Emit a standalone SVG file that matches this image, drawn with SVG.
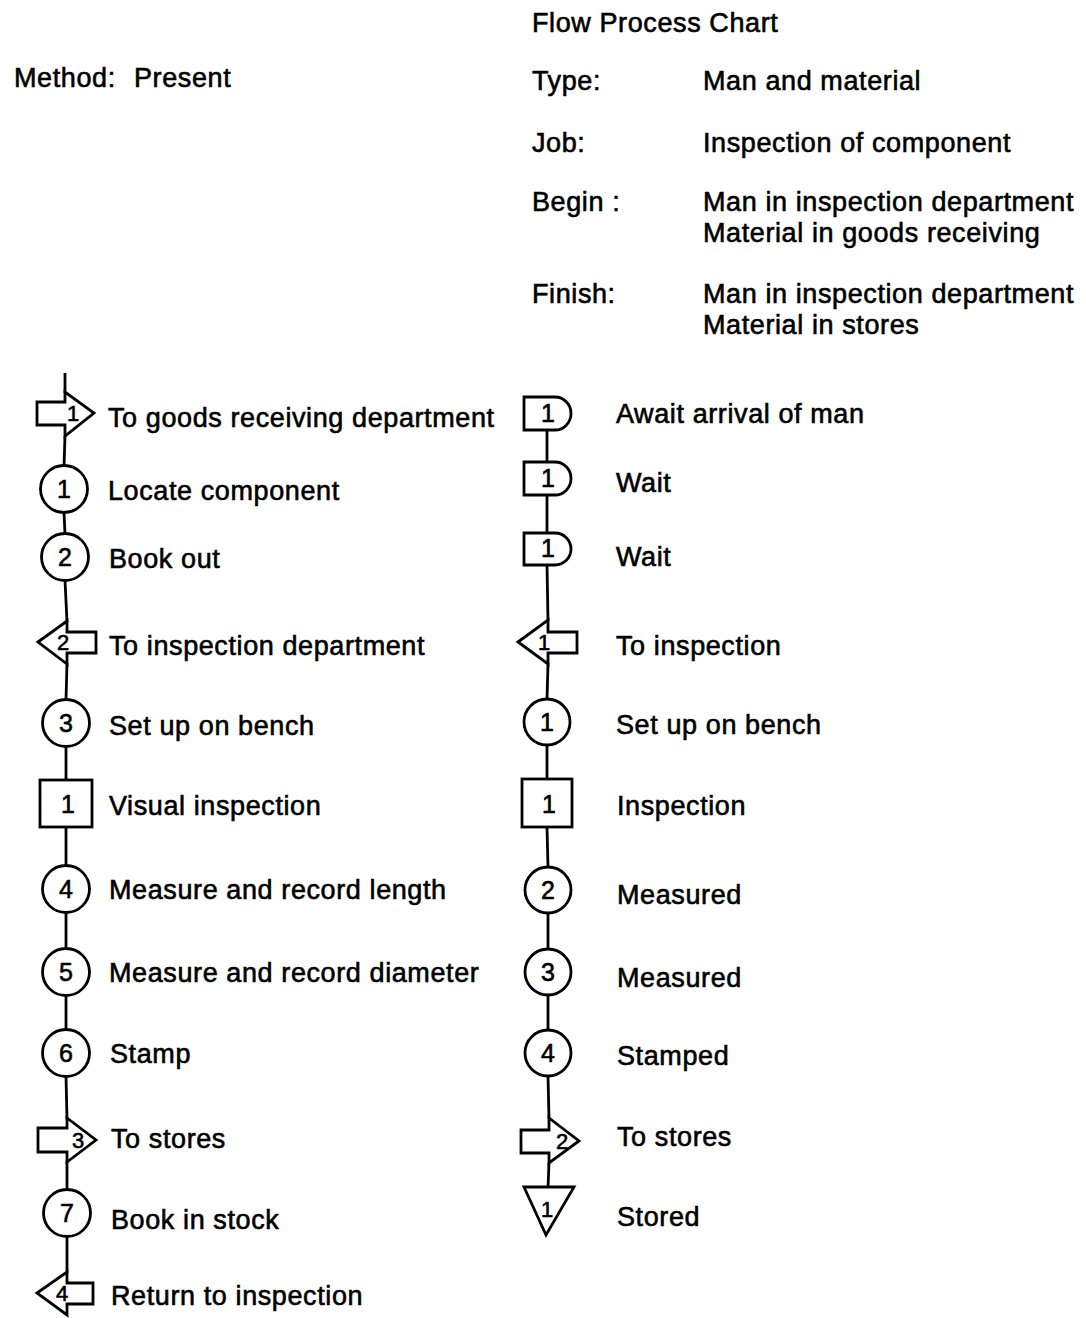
<svg xmlns="http://www.w3.org/2000/svg" width="1086" height="1318" viewBox="0 0 1086 1318">
<style>
text{font-family:"Liberation Sans",Arial,sans-serif;fill:#000;stroke:#000;stroke-width:0.6}
.t{font-size:27px;letter-spacing:0.6px}
.n{font-size:25px;text-anchor:middle}
.s{font-size:22px;text-anchor:middle}
.sh{fill:#fff;stroke:#000;stroke-width:2.8;stroke-linejoin:miter}
.ln{stroke:#000;stroke-width:2.8;fill:none}
</style>
<rect width="1086" height="1318" fill="#fff"/>
<g id="header">
<text class="t" x="532" y="32">Flow Process Chart</text>
<text class="t" x="14" y="87">Method:<tspan x="134">Present</tspan></text>
<text class="t" x="532" y="90">Type:</text>
<text class="t" x="703" y="90">Man and material</text>
<text class="t" x="532" y="152">Job:</text>
<text class="t" x="703" y="152">Inspection of component</text>
<text class="t" x="532" y="211">Begin :</text>
<text class="t" x="703" y="211">Man in inspection department</text>
<text class="t" x="703" y="242">Material in goods receiving</text>
<text class="t" x="532" y="303">Finish:</text>
<text class="t" x="703" y="303">Man in inspection department</text>
<text class="t" x="703" y="334">Material in stores</text>
</g>
<g id="connectors">
<line class="ln" x1="65" y1="373" x2="65" y2="393"/>
<line class="ln" x1="65" y1="436" x2="64" y2="466"/>
<line class="ln" x1="64" y1="512" x2="65" y2="534"/>
<line class="ln" x1="65" y1="580" x2="67" y2="622"/>
<line class="ln" x1="67" y1="663" x2="66" y2="700"/>
<line class="ln" x1="66" y1="746" x2="66" y2="780"/>
<line class="ln" x1="66" y1="827" x2="66" y2="866"/>
<line class="ln" x1="66" y1="912" x2="66" y2="949"/>
<line class="ln" x1="66" y1="995" x2="66" y2="1030"/>
<line class="ln" x1="66" y1="1076" x2="67" y2="1119"/>
<line class="ln" x1="67" y1="1161" x2="67" y2="1190"/>
<line class="ln" x1="67" y1="1236" x2="67" y2="1273"/>
<line class="ln" x1="547" y1="430" x2="547" y2="462"/>
<line class="ln" x1="547" y1="495" x2="547" y2="533"/>
<line class="ln" x1="547" y1="565" x2="548" y2="621"/>
<line class="ln" x1="548" y1="663" x2="547" y2="700"/>
<line class="ln" x1="547" y1="745" x2="547" y2="779"/>
<line class="ln" x1="547" y1="827" x2="548" y2="867"/>
<line class="ln" x1="548" y1="913" x2="548" y2="949"/>
<line class="ln" x1="548" y1="995" x2="548" y2="1030"/>
<line class="ln" x1="548" y1="1076" x2="549" y2="1119"/>
<line class="ln" x1="549" y1="1162" x2="548" y2="1188"/>
</g>
<g id="L-transport1"><path class="sh" d="M37,402 H65 V392 L94,413 L65,436 V425 H37 Z"/><text class="s" x="73" y="421">1</text><text class="t" x="108" y="427">To goods receiving department</text></g>
<g id="L-op1"><circle class="sh" cx="64" cy="489" r="23.5"/><text class="n" x="64" y="498">1</text><text class="t" x="108" y="500">Locate component</text></g>
<g id="L-op2"><circle class="sh" cx="65" cy="557" r="23.5"/><text class="n" x="65" y="566">2</text><text class="t" x="109" y="568">Book out</text></g>
<g id="L-transport2"><path class="sh" d="M38,642 L67,621 V632 H96 V653 H67 V664 Z"/><text class="s" x="63" y="650">2</text><text class="t" x="109" y="655">To inspection department</text></g>
<g id="L-op3"><circle class="sh" cx="66" cy="723" r="23.5"/><text class="n" x="66" y="732">3</text><text class="t" x="109" y="735">Set up on bench</text></g>
<g id="L-insp1"><rect class="sh" x="40" y="780" width="52" height="47"/><text class="n" x="68" y="813">1</text><text class="t" x="109" y="815">Visual inspection</text></g>
<g id="L-op4"><circle class="sh" cx="66" cy="889" r="23.5"/><text class="n" x="66" y="898">4</text><text class="t" x="109" y="899">Measure and record length</text></g>
<g id="L-op5"><circle class="sh" cx="66" cy="972" r="23.5"/><text class="n" x="66" y="981">5</text><text class="t" x="109" y="982">Measure and record diameter</text></g>
<g id="L-op6"><circle class="sh" cx="66" cy="1053" r="23.5"/><text class="n" x="66" y="1062">6</text><text class="t" x="110" y="1063">Stamp</text></g>
<g id="L-transport3"><path class="sh" d="M38,1128 H67 V1118 L96,1140 L67,1162 V1152 H38 Z"/><text class="s" x="78" y="1148">3</text><text class="t" x="111" y="1148">To stores</text></g>
<g id="L-op7"><circle class="sh" cx="67" cy="1213" r="23.5"/><text class="n" x="67" y="1222">7</text><text class="t" x="111" y="1229">Book in stock</text></g>
<g id="L-transport4"><path class="sh" d="M37,1293 L67,1272 V1283 H93 V1304 H67 V1315 Z"/><text class="s" x="62" y="1301">4</text><text class="t" x="111" y="1305">Return to inspection</text></g>
<g id="R-delay1"><path class="sh" d="M524,397 H555 A16,16.5 0 0 1 555,430 H524 Z"/><text class="n" x="548" y="422">1</text><text class="t" x="616" y="423">Await arrival of man</text></g>
<g id="R-delay2"><path class="sh" d="M524,462 H555 A16,16.5 0 0 1 555,495 H524 Z"/><text class="n" x="548" y="487">1</text><text class="t" x="616" y="492">Wait</text></g>
<g id="R-delay3"><path class="sh" d="M524,533 H555 A16,16 0 0 1 555,565 H524 Z"/><text class="n" x="548" y="557">1</text><text class="t" x="616" y="566">Wait</text></g>
<g id="R-transport1"><path class="sh" d="M518,642 L548,620 V632 H577 V653 H548 V664 Z"/><text class="s" x="544" y="650">1</text><text class="t" x="616" y="655">To inspection</text></g>
<g id="R-op1"><circle class="sh" cx="547" cy="722" r="23"/><text class="n" x="547" y="731">1</text><text class="t" x="616" y="734">Set up on bench</text></g>
<g id="R-insp1"><rect class="sh" x="522" y="779" width="50" height="48"/><text class="n" x="549" y="813">1</text><text class="t" x="617" y="815">Inspection</text></g>
<g id="R-op2"><circle class="sh" cx="548" cy="890" r="23"/><text class="n" x="548" y="899">2</text><text class="t" x="617" y="904">Measured</text></g>
<g id="R-op3"><circle class="sh" cx="548" cy="972" r="23"/><text class="n" x="548" y="981">3</text><text class="t" x="617" y="987">Measured</text></g>
<g id="R-op4"><circle class="sh" cx="548" cy="1053" r="23"/><text class="n" x="548" y="1062">4</text><text class="t" x="617" y="1065">Stamped</text></g>
<g id="R-transport2"><path class="sh" d="M521,1130 H549 V1118 L579,1141 L549,1163 V1153 H521 Z"/><text class="s" x="562" y="1149">2</text><text class="t" x="617" y="1146">To stores</text></g>
<g id="R-storage1"><path class="sh" d="M524,1187 H574 L546,1235 Z"/><text class="s" x="547" y="1217">1</text><text class="t" x="617" y="1226">Stored</text></g>
</svg>
